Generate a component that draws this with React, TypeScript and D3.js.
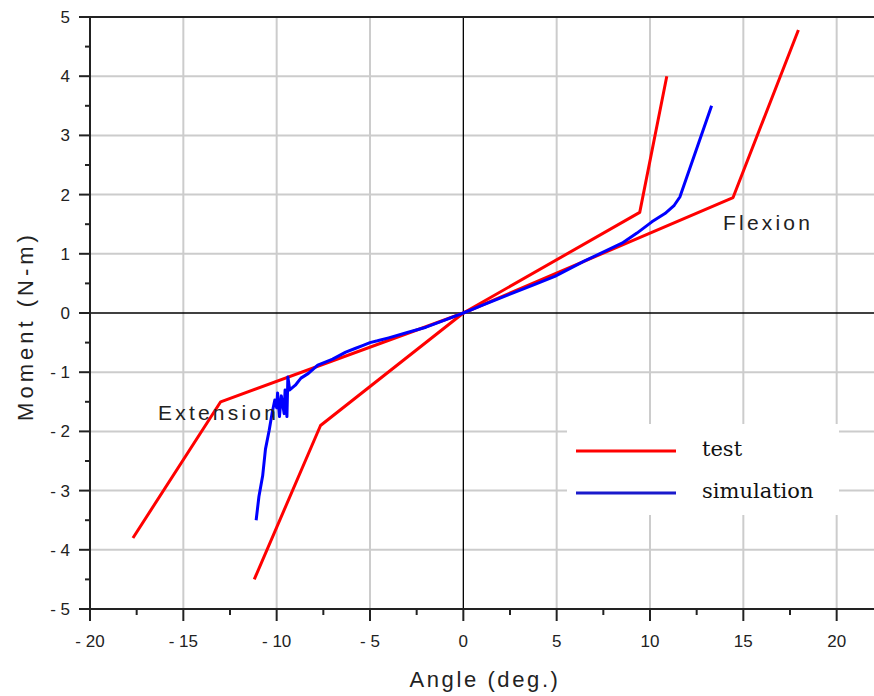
import React, { useEffect, useRef } from "react";
import * as d3 from "d3";

// test curves (red), two specimens, extension -> flexion
const testA: [number, number][] = [[-17.7, -3.8], [-13.0, -1.5], [0, 0], [14.45, 1.95], [17.95, 4.78]];
const testB: [number, number][] = [[-11.2, -4.5], [-7.65, -1.9], [0, 0], [9.45, 1.7], [10.9, 4.0]];

// simulation curve (blue)
const simulation: [number, number][] = [
  [-11.1, -3.5], [-10.95, -3.1], [-10.75, -2.75], [-10.6, -2.3], [-10.4, -1.98],
  [-10.25, -1.7], [-10.1, -1.47], [-10.0, -1.6], [-9.95, -1.35], [-9.85, -1.75],
  [-9.75, -1.4], [-9.6, -1.7], [-9.55, -1.3], [-9.45, -1.75], [-9.4, -1.08],
  [-9.3, -1.3], [-9.0, -1.22], [-8.7, -1.1], [-8.3, -1.02], [-7.8, -0.88],
  [-7.0, -0.78], [-6.3, -0.66], [-5.8, -0.6], [-5.4, -0.55], [-5.0, -0.5],
  [-4.6, -0.47], [-4.0, -0.42], [-3.0, -0.33], [-2.0, -0.24], [-1.0, -0.12],
  [0, 0], [1.0, 0.13], [2.5, 0.32], [3.8, 0.48], [4.9, 0.62], [6.5, 0.88],
  [8.5, 1.18], [9.3, 1.35], [10.1, 1.54], [10.8, 1.68], [11.3, 1.82],
  [11.6, 1.96], [13.3, 3.5],
];

const xTicks = [-20, -15, -10, -5, 0, 5, 10, 15, 20];
const yTicks = [-5, -4, -3, -2, -1, 0, 1, 2, 3, 4, 5];
const legendItems = [
  { label: "test", color: "#ff0000" },
  { label: "simulation", color: "#1a1acc" },
];

export default function App() {
  const svgRef = useRef<SVGSVGElement>(null);

  useEffect(() => {
    if (!svgRef.current) return;
    const svg = d3.select(svgRef.current);
    svg.selectAll("*").remove();

    const left = 90, right = 874, top = 17, bottom = 609;
    const x = d3.scaleLinear().domain([-20, 22]).range([left, right]);
    const y = d3.scaleLinear().domain([-5, 5]).range([bottom, top]);

    const font = "'Liberation Sans', Arial, sans-serif";

    // grid
    svg.append("g").selectAll("line").data(xTicks.filter(t => t !== -20 && t !== 0)).enter()
      .append("line")
      .attr("x1", d => x(d)).attr("x2", d => x(d)).attr("y1", top).attr("y2", bottom)
      .attr("stroke", "#cccccc").attr("stroke-width", 2);
    svg.append("g").selectAll("line").data(yTicks.filter(t => t !== -5 && t !== 5 && t !== 0)).enter()
      .append("line")
      .attr("x1", left).attr("x2", right).attr("y1", d => y(d)).attr("y2", d => y(d))
      .attr("stroke", "#cccccc").attr("stroke-width", 2);

    // zero axes
    svg.append("line").attr("x1", x(0)).attr("x2", x(0)).attr("y1", top).attr("y2", bottom)
      .attr("stroke", "#000").attr("stroke-width", 1.3);
    svg.append("line").attr("x1", left).attr("x2", right).attr("y1", y(0)).attr("y2", y(0))
      .attr("stroke", "#000").attr("stroke-width", 1.3);

    // frame: left, top, bottom
    const axisColor = "#222";
    svg.append("line").attr("x1", left).attr("x2", left).attr("y1", top).attr("y2", bottom + 12)
      .attr("stroke", axisColor).attr("stroke-width", 2);
    svg.append("line").attr("x1", left - 11).attr("x2", right).attr("y1", top).attr("y2", top)
      .attr("stroke", axisColor).attr("stroke-width", 2);
    svg.append("line").attr("x1", left - 11).attr("x2", right).attr("y1", bottom).attr("y2", bottom)
      .attr("stroke", axisColor).attr("stroke-width", 2);

    // x ticks
    const xMinor = d3.range(-17.5, 22, 5);
    svg.append("g").selectAll("line").data(xTicks).enter().append("line")
      .attr("x1", d => x(d)).attr("x2", d => x(d)).attr("y1", bottom).attr("y2", bottom + 12)
      .attr("stroke", axisColor).attr("stroke-width", 2);
    svg.append("g").selectAll("line").data(xMinor).enter().append("line")
      .attr("x1", d => x(d)).attr("x2", d => x(d)).attr("y1", bottom).attr("y2", bottom + 6)
      .attr("stroke", axisColor).attr("stroke-width", 2);
    svg.append("g").selectAll("text").data(xTicks).enter().append("text")
      .attr("x", d => x(d)).attr("y", bottom + 38)
      .attr("text-anchor", "middle").attr("font-family", font).attr("font-size", 17)
      .attr("fill", "#222")
      .text(d => (d < 0 ? "- " + Math.abs(d) : String(d)));

    // y ticks
    const yMinor = d3.range(-4.5, 5, 1);
    svg.append("g").selectAll("line").data(yTicks).enter().append("line")
      .attr("x1", left - 11).attr("x2", left).attr("y1", d => y(d)).attr("y2", d => y(d))
      .attr("stroke", axisColor).attr("stroke-width", 2);
    svg.append("g").selectAll("line").data(yMinor).enter().append("line")
      .attr("x1", left - 5).attr("x2", left).attr("y1", d => y(d)).attr("y2", d => y(d))
      .attr("stroke", axisColor).attr("stroke-width", 2);
    svg.append("g").selectAll("text").data(yTicks).enter().append("text")
      .attr("x", left - 20).attr("y", d => y(d) + 6)
      .attr("text-anchor", "end").attr("font-family", font).attr("font-size", 17)
      .attr("fill", "#222")
      .text(d => (d < 0 ? "- " + Math.abs(d) : String(d)));

    // curves
    const line = d3.line<[number, number]>().x(d => x(d[0])).y(d => y(d[1]));
    [testA, testB].forEach(s => {
      svg.append("path").attr("d", line(s)).attr("fill", "none")
        .attr("stroke", "#ff0000").attr("stroke-width", 3).attr("stroke-linejoin", "round");
    });
    svg.append("path").attr("d", line(simulation)).attr("fill", "none")
      .attr("stroke", "#0000ff").attr("stroke-width", 3).attr("stroke-linejoin", "round");

    // annotations
    svg.append("text").attr("x", 723).attr("y", 230)
      .attr("font-family", font).attr("font-size", 21).attr("letter-spacing", 3.2)
      .attr("fill", "#222").text("Flexion");
    svg.append("text").attr("x", 158).attr("y", 420)
      .attr("font-family", font).attr("font-size", 21).attr("letter-spacing", 3.2)
      .attr("fill", "#222").text("Extension");

    // legend
    svg.append("rect").attr("x", 567).attr("y", 424).attr("width", 272).attr("height", 91)
      .attr("fill", "#fff");
    legendItems.forEach((item, i) => {
      const ly = 451 + i * 42;
      svg.append("line").attr("x1", 576).attr("x2", 676).attr("y1", ly).attr("y2", ly)
        .attr("stroke", item.color).attr("stroke-width", 3);
      svg.append("text").attr("x", 702).attr("y", ly + 5)
        .attr("font-family", "'DejaVu Serif', 'Liberation Serif', serif").attr("font-size", 21)
        .attr("fill", "#111").text(item.label);
    });

    // axis titles
    svg.append("text").attr("x", 485).attr("y", 687).attr("text-anchor", "middle")
      .attr("font-family", font).attr("font-size", 22).attr("letter-spacing", 2.6).attr("fill", "#222")
      .text("Angle (deg.)");
    svg.append("text").attr("transform", `translate(33, 326) rotate(-90)`)
      .attr("text-anchor", "middle")
      .attr("font-family", font).attr("font-size", 22).attr("letter-spacing", 4).attr("fill", "#222")
      .text("Moment (N-m)");
  }, []);

  return (
    <svg ref={svgRef} width={874} height={696}
      style={{ position: "absolute", left: 0, top: 0, background: "#fff", display: "block" }} />
  );
}
